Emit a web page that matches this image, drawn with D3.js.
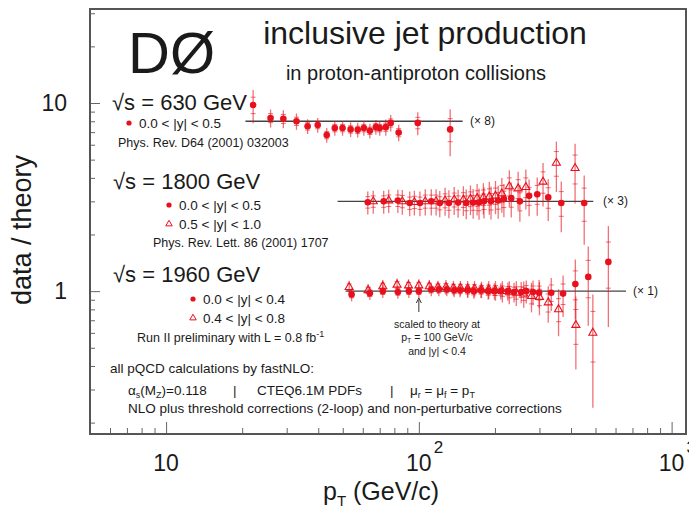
<!DOCTYPE html>
<html>
<head>
<meta charset="utf-8">
<script src="https://cdn.jsdelivr.net/npm/d3@7"></script>
<style>
  body { margin: 0; background: #fff; }
  text { font-family: "Liberation Sans", Arial, Helvetica, sans-serif; fill: #1a1a1a; }
</style>
</head>
<body>
<svg id="chart" width="689" height="513"></svg>
<script>
// scale factors applied to each sqrt(s) set
var scale630 = 8, scale1800 = 3, scale1960 = 1;

// sqrt(s) = 630 GeV, 0.0<|y|<0.5
var pt630 = [22.1, 25.9, 29.1, 32.8, 36.3, 39.8, 43.2, 46.5, 49.9, 53.7, 57.3, 60.6, 64, 67.6, 70, 74, 77.4, 83.2, 99, 133];
var r630 = [1.22, 1.04, 1.03, 1.0, 0.94, 0.955, 0.845, 0.92, 0.92, 0.905, 0.9, 0.92, 0.89, 0.93, 0.92, 0.93, 0.98, 0.87, 0.98, 0.905];
var e630 = [0.2, 0.11, 0.11, 0.1, 0.09, 0.09, 0.09, 0.09, 0.09, 0.09, 0.09, 0.09, 0.09, 0.09, 0.09, 0.1, 0.1, 0.1, 0.14, 0.28];

// sqrt(s) = 1800 GeV, 0.0<|y|<0.5 (circles)
var pt1800a = [62.8, 72.6, 82.6, 92, 101, 112, 121, 131.5, 143, 154, 164, 173, 181, 193, 206, 217, 232, 251, 273, 294, 325, 366, 451];
var r1800a = [0.99, 1.0, 1.01, 0.98, 0.98, 1.0, 0.98, 0.98, 0.985, 0.98, 0.985, 0.985, 1.0, 1.0, 1.01, 1.03, 1.04, 1.0, 1.07, 1.09, 1.05, 0.98, 0.98];
var e1800a = [0.14, 0.14, 0.14, 0.15, 0.15, 0.16, 0.16, 0.17, 0.17, 0.18, 0.18, 0.19, 0.19, 0.2, 0.2, 0.2, 0.21, 0.22, 0.22, 0.23, 0.25, 0.3, 0.4];
// sqrt(s) = 1800 GeV, 0.5<|y|<1.0 (triangles)
var pt1800b = [66, 76, 86, 96, 106, 117, 127, 138, 150, 160, 170, 180, 190, 201, 213, 228, 247, 265, 310, 350, 415];
var r1800b = [1.0, 1.01, 1.0, 0.99, 1.0, 1.0, 1.01, 1.02, 1.02, 1.03, 1.04, 1.05, 1.06, 1.07, 1.1, 1.2, 1.17, 1.19, 1.27, 1.6, 1.5];
var e1800b = [0.14, 0.14, 0.15, 0.15, 0.16, 0.16, 0.17, 0.17, 0.18, 0.18, 0.19, 0.19, 0.2, 0.2, 0.21, 0.22, 0.23, 0.24, 0.26, 0.3, 0.35];

// sqrt(s) = 1960 GeV, 0.0<|y|<0.4 (circles)
var pt1960a = [54.2, 64, 72, 82.6, 91.3, 100, 112, 120, 129, 138, 145.6, 156, 165, 176, 188, 199, 211, 225, 238, 254, 266, 283, 299, 334, 372, 416, 468, 562];
var r1960a = [0.96, 0.975, 1.0, 0.99, 1.0, 1.0, 1.02, 1.02, 1.02, 1.01, 1.01, 1.01, 1.0, 1.01, 1.0, 1.0, 1.0, 1.0, 0.99, 0.99, 1.0, 0.99, 0.98, 0.98, 0.97, 1.09, 1.19, 1.43];
var e1960a = [0.08, 0.08, 0.08, 0.08, 0.08, 0.08, 0.08, 0.08, 0.08, 0.08, 0.08, 0.09, 0.09, 0.09, 0.1, 0.1, 0.1, 0.11, 0.12, 0.13, 0.14, 0.15, 0.17, 0.2, 0.25, 0.35, 0.45, 0.55];
// sqrt(s) = 1960 GeV, 0.4<|y|<0.8 (triangles)
var pt1960b = [53, 63, 72, 82, 91, 100, 110, 119, 128, 137, 146, 156, 166, 177, 189, 201, 214, 228, 243, 260, 279, 300, 325, 357, 418, 488];
var r1960b = [1.05, 1.01, 1.06, 1.08, 1.07, 1.07, 1.06, 1.05, 1.05, 1.04, 1.04, 1.03, 1.03, 1.02, 1.02, 1.01, 1.0, 0.99, 0.98, 0.97, 0.94, 0.93, 0.87, 0.8, 0.66, 0.6];
var e1960b = [0.08, 0.08, 0.08, 0.08, 0.08, 0.08, 0.08, 0.08, 0.09, 0.09, 0.09, 0.1, 0.1, 0.1, 0.11, 0.12, 0.13, 0.14, 0.15, 0.16, 0.18, 0.2, 0.22, 0.28, 0.42, 0.6];

var xMajor = [10, 100, 1000];
var yMajor = [1, 10];

(function() {
  var svg = d3.select('#chart');
  var pLeft = 90, pRight = 686, pTop = 9, pBottom = 434;
  var red = '#e8101c';

  var x = d3.scaleLog().domain([5, 1140]).range([pLeft, pRight]);
  var y = d3.scaleLog().domain([0.174, 31.6]).range([pBottom, pTop]);

  // minor tick values
  var xMinor = [], yMinor = [];
  [1, 10, 100].forEach(function(d) { for (var k = 2; k <= 9; k++) { if (d * k >= 5 && d * k <= 1140) xMinor.push(d * k); } });
  [0.1, 1, 10].forEach(function(d) { for (var k = 2; k <= 9; k++) { if (d * k >= 0.174 && d * k <= 31.6) yMinor.push(d * k); } });

  function styleAxis(g) {
    g.select('.domain').remove();
    g.selectAll('line').attr('stroke', '#666').attr('stroke-width', 1);
  }

  svg.append('g').attr('transform', 'translate(0,' + pBottom + ')')
    .call(d3.axisBottom(x).tickValues(xMajor).tickSize(-12).tickFormat(''))
    .call(styleAxis);
  svg.append('g').attr('transform', 'translate(0,' + pBottom + ')')
    .call(d3.axisBottom(x).tickValues(xMinor).tickSize(-6).tickFormat(''))
    .call(styleAxis);
  svg.append('g').attr('transform', 'translate(' + pLeft + ',0)')
    .call(d3.axisLeft(y).tickValues(yMajor).tickSize(-10).tickFormat(''))
    .call(styleAxis);
  svg.append('g').attr('transform', 'translate(' + pLeft + ',0)')
    .call(d3.axisLeft(y).tickValues(yMinor).tickSize(-5).tickFormat(''))
    .call(styleAxis);

  svg.append('rect').attr('x', pLeft).attr('y', pTop).attr('width', pRight - pLeft).attr('height', pBottom - pTop)
    .attr('fill', 'none').attr('stroke', '#555').attr('stroke-width', 2);

  // tick labels
  var xl = svg.append('g').attr('font-size', 23);
  xMajor.forEach(function(d, i) {
    xl.append('text').attr('x', x(d)).attr('y', 471).attr('text-anchor', 'middle').text('10');
    if (i > 0) xl.append('text').attr('x', x(d) + 15).attr('y', 453).attr('font-size', 17).text(i + 1);
  });
  yMajor.forEach(function(d) {
    svg.append('text').attr('x', 67).attr('y', y(d) + 8).attr('text-anchor', 'end').attr('font-size', 23).text(d);
  });

  // axis titles
  svg.append('text').attr('transform', 'translate(31,230) rotate(-90)').attr('text-anchor', 'middle')
    .attr('font-size', 27).text('data / theory');
  var xt = svg.append('text').attr('x', 323).attr('y', 500).attr('font-size', 25);
  xt.append('tspan').text('p');
  xt.append('tspan').attr('font-size', 15).attr('dy', 6).text('T');
  xt.append('tspan').attr('dy', -6).text('  (GeV/c)');

  // headers
  svg.append('text').attr('x', 128).attr('y', 73).attr('font-size', 58).text('DØ');
  svg.append('text').attr('x', 425).attr('y', 44).attr('text-anchor', 'middle').attr('font-size', 32).text('inclusive jet production');
  svg.append('text').attr('x', 416).attr('y', 80).attr('text-anchor', 'middle').attr('font-size', 20).text('in proton-antiproton collisions');

  // reference lines
  function refLine(x0, x1, v, label, lx) {
    svg.append('line').attr('x1', x(x0)).attr('x2', x(x1)).attr('y1', y(v)).attr('y2', y(v))
      .attr('stroke', '#444').attr('stroke-width', 1.3);
    svg.append('text').attr('x', lx).attr('y', y(v) + 4).attr('font-size', 12).text(label);
  }
  refLine(20.6, 149, scale630, '(× 8)', 470);
  refLine(47.7, 490, scale1800, '(× 3)', 603);
  refLine(51.3, 660, scale1960, '(× 1)', 633);

  // data, errors drawn as v*(1 +/- e), stat ticks at half of that
  function series(pts, rat, err, f, shape) {
    var data = pts.map(function(p, i) { return { p: p, v: rat[i] * f, e: err[i] }; });
    var g = svg.append('g');
    g.selectAll('line.err').data(data).enter().append('line')
      .attr('x1', function(d) { return x(d.p); }).attr('x2', function(d) { return x(d.p); })
      .attr('y1', function(d) { return y(d.v * (1 + d.e)); }).attr('y2', function(d) { return y(d.v * (1 - d.e)); })
      .attr('stroke', red).attr('stroke-opacity', 0.6).attr('stroke-width', 1.3);
    [1, -1].forEach(function(s) {
      g.selectAll('line.tk' + s).data(data).enter().append('line')
        .attr('x1', function(d) { return x(d.p) - 2.5; }).attr('x2', function(d) { return x(d.p) + 2.5; })
        .attr('y1', function(d) { return y(d.v * (1 + s * d.e / 2)); }).attr('y2', function(d) { return y(d.v * (1 + s * d.e / 2)); })
        .attr('stroke', red).attr('stroke-opacity', 0.6);
    });
    if (shape === 'circle') {
      g.selectAll('circle').data(data).enter().append('circle')
        .attr('cx', function(d) { return x(d.p); }).attr('cy', function(d) { return y(d.v); })
        .attr('r', 3.3).attr('fill', red);
    } else {
      g.selectAll('path.m').data(data).enter().append('path')
        .attr('d', d3.symbol(d3.symbolTriangle, 28))
        .attr('transform', function(d) { return 'translate(' + x(d.p) + ',' + y(d.v) + ')'; })
        .attr('fill', 'none').attr('stroke', red).attr('stroke-width', 1.1);
    }
  }
  series(pt630, r630, e630, scale630, 'circle');
  series(pt1800b, r1800b, e1800b, scale1800, 'tri');
  series(pt1800a, r1800a, e1800a, scale1800, 'circle');
  series(pt1960b, r1960b, e1960b, scale1960, 'tri');
  series(pt1960a, r1960a, e1960a, scale1960, 'circle');

  // legend blocks
  function heading(xp, yp, label) {
    svg.append('text').attr('x', xp).attr('y', yp).attr('font-size', 22).text('√s = ' + label);
  }
  function entry(xp, yp, shape, label) {
    if (shape === 'circle') {
      svg.append('circle').attr('cx', xp).attr('cy', yp - 5).attr('r', 2.6).attr('fill', red);
    } else {
      svg.append('path').attr('d', d3.symbol(d3.symbolTriangle, 18))
        .attr('transform', 'translate(' + xp + ',' + (yp - 5) + ')')
        .attr('fill', 'none').attr('stroke', red).attr('stroke-width', 1);
    }
    svg.append('text').attr('x', xp + 10).attr('y', yp).attr('font-size', 13.5).text(label);
  }
  function note(xp, yp, label, fs) {
    return svg.append('text').attr('x', xp).attr('y', yp).attr('font-size', fs || 12.5).text(label);
  }

  heading(112, 110, '630 GeV');
  entry(129, 128, 'circle', '0.0 < |y| < 0.5');
  note(118, 147, 'Phys. Rev. D64 (2001) 032003');

  heading(113, 189, '1800 GeV');
  entry(169, 210, 'circle', '0.0 < |y| < 0.5');
  entry(169, 229, 'tri', '0.5 < |y| < 1.0');
  note(153, 247, 'Phys. Rev. Lett. 86 (2001) 1707');

  heading(113, 282, '1960 GeV');
  entry(193, 304, 'circle', '0.0 < |y| < 0.4');
  entry(193, 323, 'tri', '0.4 < |y| < 0.8');
  var run = note(137, 342, 'Run II preliminary with L = 0.8 fb');
  run.append('tspan').attr('dy', -5).attr('font-size', 9).text('-1');

  // arrow and scaling note
  svg.append('line').attr('x1', x(100)).attr('x2', x(100)).attr('y1', 300).attr('y2', 312).attr('stroke', '#333');
  svg.append('path').attr('d', 'M' + (x(100) - 2.5) + ',303 L' + x(100) + ',298 L' + (x(100) + 2.5) + ',303')
    .attr('fill', 'none').attr('stroke', '#333');
  var sn = svg.append('g').attr('font-size', 10.5).attr('text-anchor', 'middle');
  sn.append('text').attr('x', 437).attr('y', 328).text('scaled to theory at');
  var pl = sn.append('text').attr('x', 437).attr('y', 341);
  pl.append('tspan').text('p');
  pl.append('tspan').attr('font-size', 7).attr('dy', 2).text('T');
  pl.append('tspan').attr('dy', -2).text(' = 100 GeV/c');
  sn.append('text').attr('x', 437).attr('y', 355).text('and |y| < 0.4');

  // calculation notes
  note(110, 373, 'all pQCD calculations by fastNLO:', 13.5);
  var a = note(128, 395, 'α', 13.5);
  a.append('tspan').attr('font-size', 9).attr('dy', 3).text('s');
  a.append('tspan').attr('dy', -3).text('(M');
  a.append('tspan').attr('font-size', 9).attr('dy', 3).text('Z');
  a.append('tspan').attr('dy', -3).text(')=0.118');
  note(233, 395, '|', 13.5);
  note(257, 395, 'CTEQ6.1M PDFs', 13.5);
  note(390, 395, '|', 13.5);
  var mu = note(410, 395, 'μ', 13.5);
  mu.append('tspan').attr('font-size', 9).attr('dy', 3).text('r');
  mu.append('tspan').attr('dy', -3).text(' = μ');
  mu.append('tspan').attr('font-size', 9).attr('dy', 3).text('f');
  mu.append('tspan').attr('dy', -3).text(' = p');
  mu.append('tspan').attr('font-size', 9).attr('dy', 3).text('T');
  note(128, 413, 'NLO plus threshold corrections (2-loop) and non-perturbative corrections', 13.5);
})();
</script>
</body>
</html>
